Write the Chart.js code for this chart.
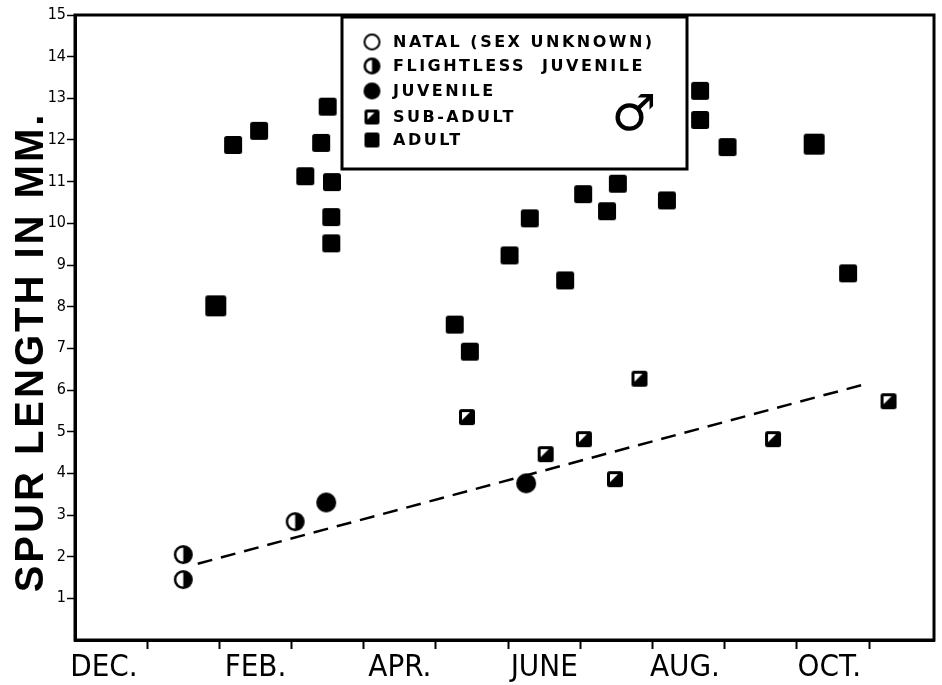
<!DOCTYPE html>
<html>
<head>
<meta charset="utf-8">
<script src="https://cdn.jsdelivr.net/npm/chart.js@4"></script>
<style>
  html, body { margin: 0; padding: 0; background: #fff; }
  canvas { display: block; }
</style>
</head>
<body>
<canvas id="spurChart" width="942" height="685"></canvas>
<script>
// axes
const monthLabels = ['DEC.', 'FEB.', 'APR.', 'JUNE', 'AUG.', 'OCT.'];
const monthLabelPos = [0.4, 2.5, 4.5, 6.5, 8.45, 10.45];
const monthBounds = [1, 2, 3, 4, 5, 6, 7, 8, 9, 10, 11];
const yTicks = [1, 2, 3, 4, 5, 6, 7, 8, 9, 10, 11, 12, 13, 14, 15];

// values (x = months since start of Dec., y = mm)
const flightlessX = [1.50, 1.50, 3.05];
const flightlessY = [2.05, 1.45, 2.84];
const juvenileX = [3.48, 6.25];
const juvenileY = [3.30, 3.76];
const subAdultX = [5.43, 6.52, 7.05, 7.48, 7.82, 9.67, 11.27];
const subAdultY = [5.35, 4.46, 4.82, 3.86, 6.27, 4.82, 5.73];
const adultX = [1.95, 2.19, 2.55, 3.19, 3.41, 3.50, 3.56, 3.55, 3.55, 5.26, 5.47, 6.02, 6.30, 6.79, 7.04, 7.37, 7.52, 8.20, 8.66, 8.66, 9.04, 10.24, 10.71];
const adultY = [8.02, 11.88, 12.22, 11.13, 11.93, 12.80, 10.99, 10.15, 9.52, 7.57, 6.92, 9.23, 10.12, 8.63, 10.70, 10.29, 10.95, 10.55, 13.18, 12.48, 11.83, 11.90, 8.80];
const trendX = [1.70, 10.90];
const trendY = [1.83, 6.12];

const bigAdultIdx = [0, 21];

function pts(xs, ys) {
    return xs.map((x, i) => ({ x: x, y: ys[i] }));
}

// marker drawings
function makeMarker(kind, size) {
    const c = document.createElement('canvas');
    c.width = size + 4;
    c.height = size + 4;
    const g = c.getContext('2d');
    const m = c.width / 2;
    const r = size / 2;
    g.fillStyle = '#000';
    g.strokeStyle = '#000';
    if (kind === 'adult' || kind === 'sub') {
        g.beginPath();
        g.roundRect(2, 2, size, size, 2.5);
        g.fill();
        if (kind === 'sub') {
            g.fillStyle = '#fff';
            g.beginPath();
            g.moveTo(5, 5);
            g.lineTo(size - 3, 5);
            g.lineTo(5, size - 3);
            g.closePath();
            g.fill();
        }
    } else if (kind === 'juv') {
        g.beginPath();
        g.arc(m, m, r, 0, Math.PI * 2);
        g.fill();
    } else if (kind === 'flight') {
        g.lineWidth = 2.5;
        g.fillStyle = '#fff';
        g.beginPath();
        g.arc(m, m, r - 1.25, 0, Math.PI * 2);
        g.fill();
        g.fillStyle = '#000';
        g.beginPath();
        g.arc(m, m, r - 1.25, -Math.PI / 2, Math.PI / 2);
        g.closePath();
        g.fill();
        g.beginPath();
        g.arc(m, m, r - 1.25, 0, Math.PI * 2);
        g.stroke();
    } else if (kind === 'natal') {
        g.lineWidth = 2;
        g.beginPath();
        g.arc(m, m, r - 1, 0, Math.PI * 2);
        g.stroke();
    }
    return c;
}

const adultMark = makeMarker('adult', 18);
const adultBigMark = makeMarker('adult', 21);
const subMark = makeMarker('sub', 16);
const juvMark = makeMarker('juv', 20);
const flightMark = makeMarker('flight', 19);

const narrowFont = "'Liberation Sans Narrow', 'DejaVu Sans Condensed', sans-serif";

// frame, y title and legend box
const decorPlugin = {
    id: 'decor',
    afterDraw(chart) {
        const ctx = chart.ctx;
        const a = chart.chartArea;
        ctx.save();
        ctx.strokeStyle = '#000';
        ctx.lineWidth = 3;
        ctx.strokeRect(a.left, a.top, a.right - a.left, a.bottom - a.top);

        // y axis title
        ctx.save();
        ctx.translate(43, 352);
        ctx.rotate(-Math.PI / 2);
        ctx.fillStyle = '#000';
        ctx.font = "bold 40px 'Liberation Sans', Arial, sans-serif";
        ctx.letterSpacing = '3px';
        ctx.textAlign = 'center';
        ctx.textBaseline = 'alphabetic';
        ctx.fillText('SPUR LENGTH IN MM.', 0, 0);
        ctx.restore();

        // legend
        const bx = 342, by = 17, bw = 345, bh = 152;
        ctx.fillStyle = '#fff';
        ctx.fillRect(bx, by, bw, bh);
        ctx.lineWidth = 3;
        ctx.strokeRect(bx, by, bw, bh);

        const rows = [
            { mark: makeMarker('natal', 17), text: 'NATAL (SEX UNKNOWN)', y: 42 },
            { mark: makeMarker('flight', 17), text: 'FLIGHTLESS  JUVENILE', y: 66 },
            { mark: makeMarker('juv', 17), text: 'JUVENILE', y: 91 },
            { mark: makeMarker('sub', 15), text: 'SUB-ADULT', y: 117 },
            { mark: makeMarker('adult', 15), text: 'ADULT', y: 140 }
        ];
        ctx.fillStyle = '#000';
        ctx.font = "bold 16px 'DejaVu Sans', sans-serif";
        ctx.letterSpacing = '2.5px';
        ctx.textAlign = 'left';
        ctx.textBaseline = 'middle';
        rows.forEach(row => {
            ctx.drawImage(row.mark, 372 - row.mark.width / 2, row.y - row.mark.height / 2);
            ctx.fillText(row.text, 393, row.y + 1);
        });

        ctx.letterSpacing = '0px';
        ctx.font = "50px 'DejaVu Sans', sans-serif";
        ctx.textAlign = 'center';
        ctx.fillText('\u2642', 634, 117);
        ctx.restore();
    }
};

const ctx = document.getElementById('spurChart').getContext('2d');
new Chart(ctx, {
    type: 'scatter',
    data: {
        datasets: [
            {
                type: 'line',
                label: 'trend',
                data: pts(trendX, trendY),
                borderColor: '#000',
                borderWidth: 2.5,
                borderDash: [15, 9],
                pointRadius: 0,
                fill: false
            },
            {
                label: 'ADULT',
                data: pts(adultX, adultY),
                pointStyle: c => bigAdultIdx.includes(c.dataIndex) ? adultBigMark : adultMark
            },
            {
                label: 'SUB-ADULT',
                data: pts(subAdultX, subAdultY),
                pointStyle: subMark
            },
            {
                label: 'JUVENILE',
                data: pts(juvenileX, juvenileY),
                pointStyle: juvMark
            },
            {
                label: 'FLIGHTLESS JUVENILE',
                data: pts(flightlessX, flightlessY),
                pointStyle: flightMark
            }
        ]
    },
    options: {
        responsive: false,
        animation: false,
        devicePixelRatio: 1,
        layout: { padding: { top: 15, right: 8, left: 0, bottom: 0 } },
        plugins: {
            legend: { display: false },
            tooltip: { enabled: false }
        },
        scales: {
            x: {
                type: 'linear',
                min: 0,
                max: 11.9,
                afterBuildTicks: axis => {
                    axis.ticks = monthBounds.concat(monthLabelPos)
                        .sort((a, b) => a - b)
                        .map(v => ({ value: v }));
                },
                afterFit: s => { s.height = 45; },
                border: { display: true, color: '#000', width: 3 },
                grid: {
                    drawOnChartArea: false,
                    drawTicks: true,
                    tickLength: 9,
                    tickWidth: 2,
                    tickColor: c => monthBounds.includes(c.tick.value) ? '#000' : 'rgba(0,0,0,0)'
                },
                ticks: {
                    autoSkip: false,
                    maxRotation: 0,
                    padding: 0,
                    color: '#000',
                    font: { family: narrowFont, size: 31 },
                    callback: v => {
                        const i = monthLabelPos.indexOf(v);
                        return i >= 0 ? monthLabels[i] : '';
                    }
                }
            },
            y: {
                min: 0,
                max: 15,
                afterBuildTicks: axis => {
                    axis.ticks = yTicks.map(v => ({ value: v }));
                },
                afterFit: s => { s.width = 75; },
                border: { display: true, color: '#000', width: 3 },
                grid: {
                    drawOnChartArea: false,
                    drawTicks: true,
                    tickLength: 8,
                    tickWidth: 1.5,
                    tickColor: '#000'
                },
                ticks: {
                    padding: 1,
                    color: '#000',
                    font: { family: narrowFont, size: 16 },
                    callback: v => String(v)
                }
            }
        }
    },
    plugins: [decorPlugin]
});
</script>
</body>
</html>
